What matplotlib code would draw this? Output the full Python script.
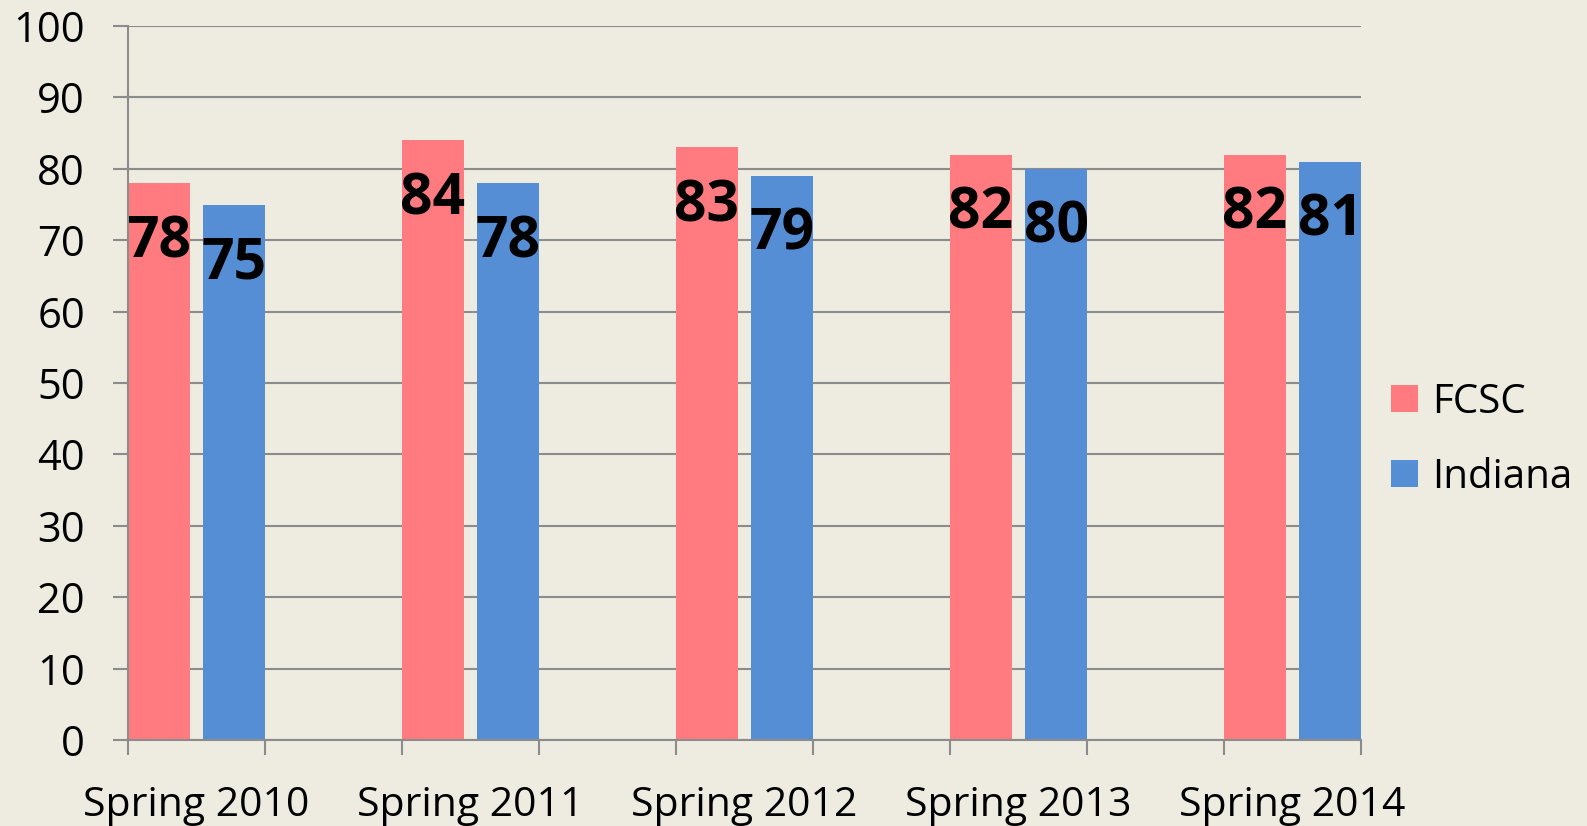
import matplotlib
matplotlib.use("Agg")
import matplotlib.pyplot as plt
import numpy as np

categories = ["Spring 2010", "Spring 2011", "Spring 2012", "Spring 2013", "Spring 2014"]
fcsc = [78, 84, 83, 82, 82]
indiana = [75, 78, 79, 80, 81]
series_names = ["FCSC", "Indiana"]
yticks = [0, 10, 20, 30, 40, 50, 60, 70, 80, 90, 100]

BG = "#EEEBE0"
C_FCSC = "#FF7B80"
C_IND = "#558ED5"
GRID = "#8C8C8C"
FONT = "Open Sans"

fig = plt.figure(figsize=(15.87, 8.26), dpi=100, facecolor=BG)
ax = fig.add_axes([128/1587, 1-740/826, (1361-128)/1587, (740-26)/826])
ax.set_facecolor(BG)

x = np.arange(len(categories)) * 2
w = 0.45
b1 = ax.bar(x - 0.275, fcsc, w, color=C_FCSC, label=series_names[0], zorder=3)
b2 = ax.bar(x + 0.275, indiana, w, color=C_IND, label=series_names[1], zorder=3)

for bars, vals in ((b1, fcsc), (b2, indiana)):
    for r, v in zip(bars, vals):
        ax.annotate(str(v), (r.get_x() + r.get_width()/2, v), xytext=(0, -74),
                    textcoords="offset pixels", ha="center", va="baseline",
                    fontsize=41, fontweight="bold", family=FONT, color="black", zorder=4)

ax.set_xlim(-0.5, 2*len(categories) - 1.5)
ax.set_ylim(0, 100)
ax.set_yticks(yticks)
ax.set_yticklabels([str(t) for t in yticks], family=FONT, fontsize=30)
ax.yaxis.grid(True, color=GRID, linewidth=1.5, zorder=0)
ax.tick_params(axis="y", length=11, width=1.5, color=GRID, pad=20, labelsize=30)

ax.set_xticks(np.arange(-0.5, 2*len(categories) - 1, 1.0))
ax.set_xticklabels([])
ax.tick_params(axis="x", length=11, width=1.5, color=GRID)
ax.set_xticks(x + 0, minor=True)
ax.set_xticklabels(categories, minor=True, family=FONT, fontsize=29.5)
ax.tick_params(axis="x", which="minor", length=0, pad=33)

for s in ("top", "right"):
    ax.spines[s].set_visible(False)
for s in ("left", "bottom"):
    ax.spines[s].set_color(GRID)
    ax.spines[s].set_linewidth(1.5)
    ax.spines[s].set_zorder(5)

leg = fig.legend(handles=[b1, b2], labels=series_names, loc="center left",
                 bbox_to_anchor=(1391/1587, 1-440/826), frameon=False,
                 borderpad=0, borderaxespad=0,
                 prop={"family": FONT, "size": 29}, handlelength=0.67, handleheight=0.67,
                 handletextpad=0.35, labelspacing=0.85)

fig.savefig("out.png", dpi=100, facecolor=BG)
